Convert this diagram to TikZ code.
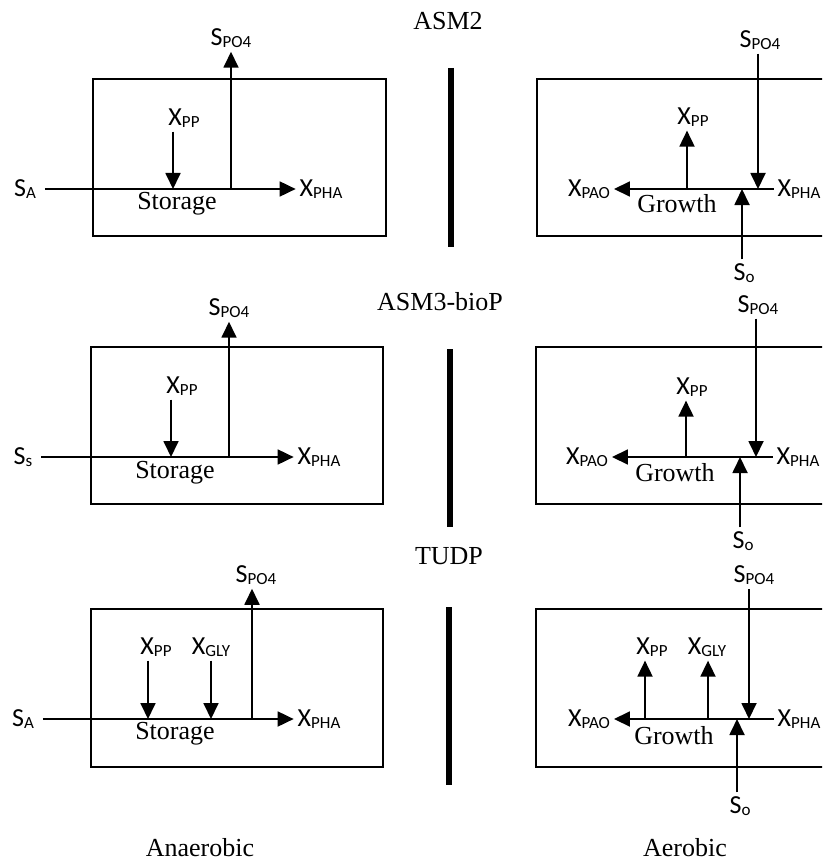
\documentclass[tikz,border=0pt]{standalone}
\usepackage{fontspec}
\setmainfont{Liberation Serif}
\newfontfamily\carl{Carlito}
\usetikzlibrary{arrows.meta}
\newcommand{\sbs}[1]{\raisebox{-2.5pt}{\fontsize{17}{17}\selectfont #1}}
\begin{document}
\begin{tikzpicture}[x=1pt,y=-1pt,
  lab/.style={font=\carl\fontsize{26}{28}\selectfont, inner sep=0pt, outer sep=4pt},
  ser/.style={font=\fontsize{26}{28}\selectfont, inner sep=0pt},
  ln/.style={line width=1.8pt},
  arr/.style={ln, -{Triangle[length=16pt,width=15pt]}},
  barst/.style={line width=6pt},
  boxst/.style={draw, line width=1.8pt}]
\useasboundingbox (0,0) rectangle (822,861);
\clip (0,0) rectangle (822,861);

% ---------- titles ----------
\node[ser] (t1) at (448,21) {ASM2};
\node[ser] (t2) at (440,302) {ASM3-bioP};
\node[ser] (t3) at (449,556) {TUDP};
\node[ser] (anae) at (200,848) {Anaerobic};
\node[ser] (aero) at (685,848) {Aerobic};

% ---------- separator bars ----------
\draw[barst] (451,68) -- (451,247);
\draw[barst] (450,349) -- (450,527);
\draw[barst] (449,607) -- (449,785);

% ================= ASM2 anaerobic =================
\draw[boxst] (93,79) rectangle (386,236);
\node[lab, outer sep=9pt] (SA1) at (25,189) {S\sbs{A}};
\node[lab] (XPHA1) at (321,189) {X\sbs{PHA}};
\node[lab] (XPP1) at (184,118) {X\sbs{PP}};
\node[lab] (SPO1) at (231,38) {S\sbs{PO4}};
\node[ser] (ST1) at (177,204) {Storage};
\coordinate (jpp1) at (173,189);
\coordinate (jpo1) at (231,189);
\draw[arr] (SA1) -- (XPHA1);
\draw[arr] (XPP1.south -| jpp1) -- (jpp1);
\draw[arr] (jpo1) -- (jpo1 |- SPO1.south);

% ================= ASM2 aerobic =================
\draw[boxst] (537,79) rectangle (840,236);
\node[lab] (XPAO2) at (589,189) {X\sbs{PAO}};
\node[lab] (XPHA2) at (799,189) {X\sbs{PHA}};
\node[lab] (XPP2) at (693,117) {X\sbs{PP}};
\node[lab] (SPO2) at (760,40) {S\sbs{PO4}};
\node[lab] (SO2) at (744,273) {S\sbs{o}};
\node[ser] (GR2) at (677,204) {Growth};
\coordinate (jpp2) at (687,189);
\coordinate (jpo2) at (758,189);
\coordinate (jso2) at (742,189);
\draw[arr] (XPHA2) -- (XPAO2);
\draw[arr] (jpp2) -- (jpp2 |- XPP2.south);
\draw[arr] (SPO2.south -| jpo2) -- (jpo2);
\draw[arr] (SO2.north -| jso2) -- (jso2);

% ================= ASM3-bioP anaerobic =================
\draw[boxst] (91,347) rectangle (383,504);
\node[lab, outer sep=9pt] (SS3) at (23,457) {S\sbs{s}};
\node[lab] (XPHA3) at (319,457) {X\sbs{PHA}};
\node[lab] (XPP3) at (182,386) {X\sbs{PP}};
\node[lab] (SPO3) at (229,308) {S\sbs{PO4}};
\node[ser] (ST3) at (175,473) {Storage};
\coordinate (jpp3) at (171,457);
\coordinate (jpo3) at (229,457);
\draw[arr] (SS3) -- (XPHA3);
\draw[arr] (XPP3.south -| jpp3) -- (jpp3);
\draw[arr] (jpo3) -- (jpo3 |- SPO3.south);

% ================= ASM3-bioP aerobic =================
\draw[boxst] (536,347) rectangle (840,504);
\node[lab] (XPAO4) at (587,457) {X\sbs{PAO}};
\node[lab] (XPHA4) at (798,457) {X\sbs{PHA}};
\node[lab] (XPP4) at (692,387) {X\sbs{PP}};
\node[lab] (SPO4) at (758,305) {S\sbs{PO4}};
\node[lab] (SO4) at (743,541) {S\sbs{o}};
\node[ser] (GR4) at (675,473) {Growth};
\coordinate (jpp4) at (686,457);
\coordinate (jpo4) at (756,457);
\coordinate (jso4) at (740,457);
\draw[arr] (XPHA4) -- (XPAO4);
\draw[arr] (jpp4) -- (jpp4 |- XPP4.south);
\draw[arr] (SPO4.south -| jpo4) -- (jpo4);
\draw[arr] (SO4.north -| jso4) -- (jso4);

% ================= TUDP anaerobic =================
\draw[boxst] (91,609) rectangle (383,767);
\node[lab, outer sep=9pt] (SA5) at (23,719) {S\sbs{A}};
\node[lab] (XPHA5) at (319,719) {X\sbs{PHA}};
\node[lab] (XPP5) at (156,647) {X\sbs{PP}};
\node[lab] (XGLY5) at (211,647) {X\sbs{GLY}};
\node[lab] (SPO5) at (256,575) {S\sbs{PO4}};
\node[ser] (ST5) at (175,734) {Storage};
\coordinate (jpp5) at (148,719);
\coordinate (jgl5) at (211,719);
\coordinate (jpo5) at (252,719);
\draw[arr] (SA5) -- (XPHA5);
\draw[arr] (XPP5.south -| jpp5) -- (jpp5);
\draw[arr] (XGLY5.south -| jgl5) -- (jgl5);
\draw[arr] (jpo5) -- (jpo5 |- SPO5.south);

% ================= TUDP aerobic =================
\draw[boxst] (536,609) rectangle (840,767);
\node[lab] (XPAO6) at (589,719) {X\sbs{PAO}};
\node[lab] (XPHA6) at (799,719) {X\sbs{PHA}};
\node[lab] (XPP6) at (652,647) {X\sbs{PP}};
\node[lab] (XGLY6) at (707,647) {X\sbs{GLY}};
\node[lab] (SPO6) at (754,575) {S\sbs{PO4}};
\node[lab] (SO6) at (740,806) {S\sbs{o}};
\node[ser] (GR6) at (674,736) {Growth};
\coordinate (jpp6) at (645,719);
\coordinate (jgl6) at (708,719);
\coordinate (jpo6) at (749,719);
\coordinate (jso6) at (737,719);
\draw[arr] (XPHA6) -- (XPAO6);
\draw[arr] (jpp6) -- (jpp6 |- XPP6.south);
\draw[arr] (jgl6) -- (jgl6 |- XGLY6.south);
\draw[arr] (SPO6.south -| jpo6) -- (jpo6);
\draw[arr] (SO6.north -| jso6) -- (jso6);
\end{tikzpicture}
\end{document}
